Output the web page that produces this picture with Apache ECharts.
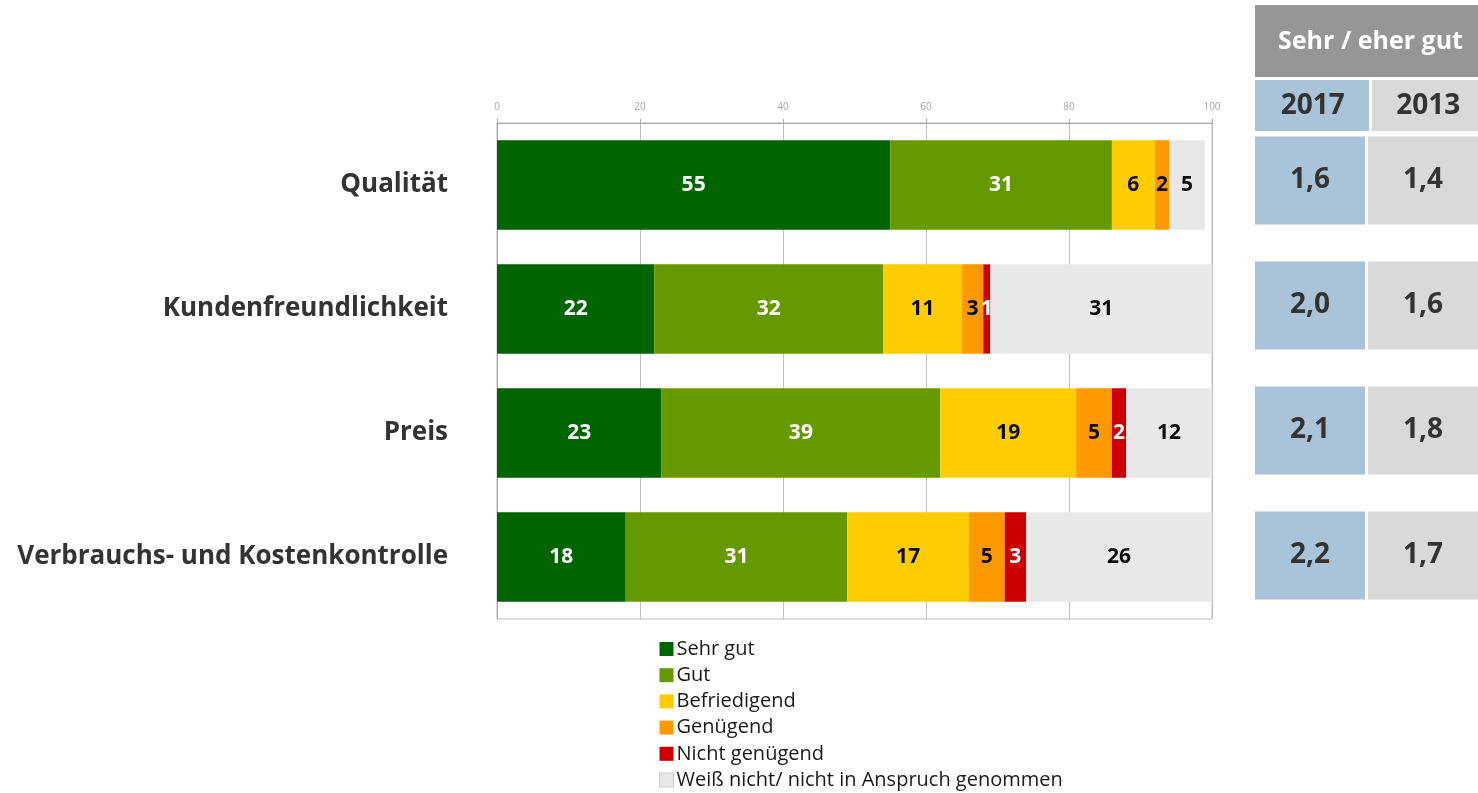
<!DOCTYPE html>
<html>
<head>
<meta charset="utf-8">
<title>Zufriedenheit</title>
<script src="https://cdn.jsdelivr.net/npm/echarts@6/dist/echarts.min.js"></script>
<style>
  html, body { margin: 0; padding: 0; background: #ffffff; }
  #chart { width: 1478px; height: 793px; }
</style>
</head>
<body>
<div id="chart"></div>
<script>
// Bewertungskategorien (von oben nach unten)
const categories = ['Qualität', 'Kundenfreundlichkeit', 'Preis', 'Verbrauchs- und Kostenkontrolle'];

// Anteile in Prozent je Bewertungsstufe
const sehrGut        = [55, 22, 23, 18];
const gut            = [31, 32, 39, 31];
const befriedigend   = [6, 11, 19, 17];
const genuegend      = [2, 3, 5, 5];
const nichtGenuegend = [0, 1, 2, 3];
const weissNicht     = [5, 31, 12, 26];

const seriesNames = ['Sehr gut', 'Gut', 'Befriedigend', 'Genügend', 'Nicht genügend', 'Weiß nicht/ nicht in Anspruch genommen'];

// Durchschnittsnoten "Sehr / eher gut"
const tableTitle = 'Sehr / eher gut';
const years = ['2017', '2013'];
const note2017 = [1.6, 2.0, 2.1, 2.2];
const note2013 = [1.4, 1.6, 1.8, 1.7];

const FONT = '"Open Sans", "DejaVu Sans", sans-serif';
const colors = ['#006400', '#669900', '#ffcc00', '#ff9900', '#cc0000', '#e8e8e8'];
const labelColors = ['#ffffff', '#ffffff', '#0d0d0d', '#0d0d0d', '#ffffff', '#0d0d0d'];
const values = [sehrGut, gut, befriedigend, genuegend, nichtGenuegend, weissNicht];

const W = 1478;
const tableLeft = 1255;
const tableRight = 1486;          // rechte Tabellenkante liegt knapp außerhalb
const colGap = 1.5;
const tableColors = ['#a9c4d8', '#d9d9d9'];
const colSplit = (tableLeft + tableRight) / 2;

const barSeries = seriesNames.map((name, i) => ({
  name: name,
  type: 'bar',
  stack: 'total',
  xAxisIndex: 0,
  yAxisIndex: 0,
  barCategoryGap: '28%',
  itemStyle: { color: colors[i] },
  label: {
    show: true,
    position: 'inside',
    color: labelColors[i],
    fontFamily: FONT,
    fontWeight: 'bold',
    fontSize: 21,
    formatter: p => (p.value ? String(p.value) : '')
  },
  emphasis: { disabled: true },
  data: values[i]
}));

// Notentabelle rechts: je Zeile eine Zelle pro Jahr
const tableData = [];
note2017.forEach((v, r) => tableData.push([0, r, v]));
note2013.forEach((v, r) => tableData.push([1, r, v]));

const tableSeries = {
  type: 'custom',
  xAxisIndex: 1,
  yAxisIndex: 1,
  silent: true,
  clip: false,
  data: tableData,
  renderItem: function (params, api) {
    const col = api.value(0);
    const row = api.value(1);
    const x0 = api.coord([col, row])[0] + (col === 1 ? colGap : 0);
    const x1 = api.coord([col + 1, row])[0] - (col === 0 ? colGap : 0);
    const yc = api.coord([col, row])[1];
    const h = 88;
    return {
      type: 'group',
      children: [
        { type: 'rect', shape: { x: x0, y: yc - h / 2, width: x1 - x0, height: h },
          style: { fill: tableColors[col] } },
        { type: 'text', x: (x0 + x1) / 2, y: yc,
          style: { text: api.value(2).toFixed(1).replace('.', ','), fill: '#333333',
                   font: 'bold 28px ' + FONT, align: 'center', verticalAlign: 'middle' } }
      ]
    };
  }
};

const chart = echarts.init(document.getElementById('chart'), null, { renderer: 'canvas' });

const graphics = [
  { type: 'rect', shape: { x: tableLeft, y: 5, width: tableRight - tableLeft, height: 72 }, style: { fill: '#969696' } },
  { type: 'text', x: (tableLeft + tableRight) / 2, y: 42,
    style: { text: tableTitle, fill: '#ffffff', font: 'bold 25px ' + FONT, align: 'center', verticalAlign: 'middle' } },
  { type: 'rect', shape: { x: tableLeft, y: 80, width: colSplit - colGap - tableLeft, height: 51 }, style: { fill: tableColors[0] } },
  { type: 'rect', shape: { x: colSplit + colGap, y: 80, width: tableRight - colSplit - colGap, height: 51 }, style: { fill: tableColors[1] } },
  { type: 'text', x: (tableLeft + colSplit) / 2, y: 106,
    style: { text: years[0], fill: '#333333', font: 'bold 28px ' + FONT, align: 'center', verticalAlign: 'middle' } },
  { type: 'text', x: (colSplit + tableRight) / 2, y: 106,
    style: { text: years[1], fill: '#333333', font: 'bold 28px ' + FONT, align: 'center', verticalAlign: 'middle' } }
];

chart.setOption({
  animation: false,
  backgroundColor: '#ffffff',
  textStyle: { fontFamily: FONT },
  grid: [
    { left: 497, right: W - 1212, top: 123, bottom: 793 - 619,
      show: true, borderColor: '#bfbfbf', borderWidth: 1, backgroundColor: 'transparent' },
    { left: tableLeft, right: W - tableRight, top: 118, bottom: 793 - 618 }
  ],
  xAxis: [
    {
      type: 'value', gridIndex: 0, position: 'top', min: 0, max: 100, interval: 20,
      axisLine: { show: true, lineStyle: { color: '#a6a6a6', width: 1 } },
      axisTick: { show: true, length: 4, lineStyle: { color: '#a6a6a6' } },
      axisLabel: { color: '#a6a6a6', fontSize: 10, margin: 11, fontFamily: FONT },
      splitLine: { show: true, lineStyle: { color: '#bfbfbf', width: 1 } }
    },
    { type: 'value', gridIndex: 1, min: 0, max: 2, show: false }
  ],
  yAxis: [
    {
      type: 'category', gridIndex: 0, inverse: true, data: categories,
      axisLine: { show: true, lineStyle: { color: '#a6a6a6' } },
      axisTick: { show: false },
      axisLabel: { color: '#333333', fontSize: 26, fontWeight: 'bold', margin: 49, fontFamily: FONT }
    },
    { type: 'category', gridIndex: 1, inverse: true, data: categories, show: false }
  ],
  legend: {
    orient: 'vertical',
    left: 654,
    top: 634,
    height: 200,
    icon: 'rect',
    itemWidth: 14,
    itemHeight: 14,
    itemGap: 6.2,
    selectedMode: false,
    textStyle: { fontSize: 20, color: '#1a1a1a', fontFamily: FONT, lineHeight: 20, padding: [0, 0, 0, -2] },
    data: seriesNames.map((n, i) => i === 5
      ? { name: n, itemStyle: { borderColor: '#c8c8c8', borderWidth: 1 } }
      : { name: n })
  },
  series: barSeries.concat([tableSeries]),
  graphic: graphics
});
</script>
</body>
</html>
